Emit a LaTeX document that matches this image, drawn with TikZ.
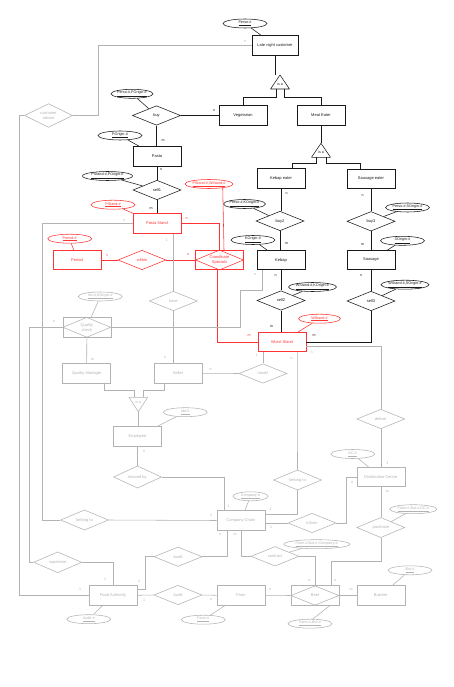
\documentclass[tikz,border=0pt]{standalone}
\usepackage{fontspec}
\setmainfont{Liberation Sans}
\usetikzlibrary{shapes.geometric}
\definecolor{cK}{HTML}{1A1A1A}
\definecolor{cR}{HTML}{FF3333}
\definecolor{cG}{HTML}{B3B3B3}
\begin{document}
\begin{tikzpicture}[x=1pt,y=-1pt,
  base/.style={font=\fontsize{4}{4.6}\selectfont, inner sep=0pt, align=center, line width=0.55pt},
  ent/.style={base, draw, rectangle, minimum width=48pt, minimum height=19.5pt},
  rel/.style={base, draw, diamond, minimum width=48pt, minimum height=19.5pt},
  attr/.style={base, draw, ellipse, minimum width=44pt, minimum height=9pt, font=\fontsize{3.7}{4.2}\selectfont},
  card/.style={font=\fontsize{3.6}{4}\selectfont, inner sep=0pt},
  inkK/.style={draw=cK, text=cK},
  inkR/.style={draw=cR, text=cR},
  inkG/.style={draw=cG, text=cG},
  lK/.style={draw=cK, line width=0.55pt},
  lR/.style={draw=cR, line width=0.55pt},
  lG/.style={draw=cG, line width=0.55pt},
]
\path[use as bounding box, fill=white] (0,0) rectangle (454,687);

% ---------------- black part ----------------
\node[attr,inkK] (perso) at (245,23.5) {\underline{Perso-\#}};
\node[ent,inkK,minimum width=46pt] (late) at (275,45.5) {Late night customer};
\coordinate (t1a) at (280,75);
\coordinate (t1l) at (276.7,89);
\coordinate (t1r) at (284,89);
\draw[lK,line join=round] (270.5,89) -- (t1a) -- (289.5,89) -- cycle;
\node[card,text=cK] (isa1) at (280,84.5) {is a};
\node[ent,inkK] (veg) at (243,115.5) {Vegetarian};
\node[ent,inkK] (meat) at (321,115.5) {Meat Eater};
\node[rel,inkK] (buy) at (156.5,115.5) {buy};
\node[attr,inkK,minimum width=42pt] (a_ppo) at (132,93.8) {\underline{Perso-\#,POrigin-\#}};
\node[ent,inkK] (pasta) at (157,156.3) {Pasta};
\node[attr,inkK] (a_po) at (120,135.5) {\underline{POrigin-\#}};
\node[rel,inkK] (sell1) at (157,190) {sell1};
\node[attr,inkK,minimum width=50pt] (a_pspo) at (107.5,176) {\underline{PStand-\#,POrigin-\#}};
\coordinate (t2a) at (321,143.3);
\coordinate (t2l) at (316,157.3);
\coordinate (t2r) at (326,157.3);
\draw[lK,line join=round] (311.5,157.3) -- (t2a) -- (330.5,157.3) -- cycle;
\node[card,text=cK] (isa2) at (321,152.5) {is a};
\node[ent,inkK] (keater) at (281,178.5) {Kebap eater};
\node[ent,inkK] (seater) at (371,179) {Sausage eater};
\node[rel,inkK] (buy2) at (280,221) {buy2};
\node[attr,inkK,minimum width=42pt] (a_pko) at (244.5,204) {\underline{Perso-\#,KOrigin-\#}};
\node[ent,inkK] (kebap) at (281,260) {Kebap};
\node[attr,inkK] (a_ko) at (253,240) {\underline{KOrigin-\#}};
\node[rel,inkK] (sell2) at (281,300.5) {sell2};
\node[attr,inkK,minimum width=48pt] (a_wko) at (312.5,287) {\underline{WStand-\#,KOrigin-\#}};
\node[rel,inkK] (buy3) at (371,221.3) {buy3};
\node[attr,inkK] (a_pso) at (407.5,207.5) {\underline{Perso-\#,SOrigin-\#}};
\node[ent,inkK] (sausage) at (371,260) {Sausage};
\node[attr,inkK] (a_so) at (402.5,240.8) {\underline{SOrigin-\#}};
\node[rel,inkK] (sell3) at (371,301) {sell3};
\node[attr,inkK,minimum width=48pt] (a_wso) at (405,284.7) {\underline{WStand-\#,SOrigin-\#}};

% ---------------- red part ----------------
\node[ent,inkR] (pstand) at (157,223.5) {Pasta Stand};
\node[attr,inkR] (a_ps) at (113,204.7) {\underline{PStand-\#}};
\node[ent,inkR] (period) at (77,260) {Period};
\node[attr,inkR] (a_per) at (69.7,238.7) {\underline{Period-\#}};
\node[rel,inkR] (within) at (142,260) {within};
\node[ent,inkR] (coord) at (219.5,260) {Coordinate\\Specials};
\node[rel,draw=cR,minimum width=48pt,minimum height=20pt] (coordd) at (219.5,260) {};
\node[attr,inkR,minimum width=48pt] (a_pws) at (209,184) {\underline{PStand-\#,WStand-\#}};
\node[ent,inkR] (wstand) at (282,342) {Wurst Stand};
\node[attr,inkR,minimum width=42pt] (a_ws) at (319.5,318.7) {\underline{WStand-\#}};

% ---------------- gray part ----------------
\node[rel,inkG] (cadv) at (48.5,115.5) {customer\\advice};
\node[rel,inkG] (have) at (173.3,301) {have};
\node[ent,inkG] (seller) at (178,373.3) {Seller};
\node[rel,inkG] (have2) at (263,373.5) {have2};
\node[ent,inkG] (qcheck) at (86.8,327.3) {Quality\\check};
\node[rel,draw=cG,minimum width=48pt,minimum height=20pt] (qcheckd) at (86.8,327.3) {};
\node[attr,inkG] (a_ins) at (100.3,296.5) {\underline{Ins-\#,KOrigin-\#}};
\node[ent,inkG] (qm) at (86.7,373.3) {Quality Manager};
\coordinate (t3a) at (138.3,411.7);
\coordinate (t3l) at (134,397.3);
\coordinate (t3r) at (143.3,397.3);
\draw[lG,line join=round] (129,397.3) -- (t3a) -- (147.7,397.3) -- cycle;
\node[card,text=cG] (isa3) at (138.3,402) {is a};
\node[ent,inkG] (employee) at (137.5,436.3) {Employee};
\node[attr,inkG] (a_ide) at (185.3,412.2) {\underline{Ide-\#}};
\node[rel,inkG] (insured) at (137.5,477) {insured by};
\node[rel,inkG] (belong1) at (84.5,520) {belong to};
\node[rel,inkG] (supervise) at (57.7,562.3) {supervise};
\node[ent,inkG] (fa) at (113,595.3) {Food Authority};
\node[attr,inkG] (a_audit) at (88.7,619.2) {\underline{Audit-\#}};
\node[rel,inkG] (audit1) at (178,556.7) {Audit};
\node[rel,inkG] (audit2) at (178,595) {Audit};
\node[ent,inkG] (farm) at (240.8,595.3) {Farm};
\node[attr,inkG] (a_farm) at (203.3,619.7) {\underline{Farm-\#}};
\node[ent,inkG] (cc) at (240.8,520.5) {Company Chain};
\node[attr,inkG,minimum width=35pt] (a_comp) at (250.5,496.3) {\underline{Company-\#}};
\node[rel,inkG] (belong2) at (297.5,480) {belong to};
\node[rel,inkG] (deliver) at (380.8,419) {deliver};
\node[ent,inkG] (dc) at (380.8,477) {Distribution Centre};
\node[attr,inkG] (a_dc) at (352.7,454) {\underline{DC-\#}};
\node[rel,inkG] (inform) at (312,523) {inform};
\node[rel,inkG] (purchase) at (380.8,527.5) {purchase};
\node[attr,inkG,minimum width=47pt] (a_fbd) at (413.3,509.2) {\underline{Farm-\#,But-\#,DC-\#}};
\node[rel,inkG] (contract) at (275,556.3) {contract};
\node[attr,inkG,minimum width=66pt] (a_fbc) at (316.7,544.2) {\underline{Farm-\#,But-\#,Company-\#}};
\node[ent,inkG] (beef) at (315,595.5) {Beef};
\node[rel,draw=cG,minimum width=48pt,minimum height=19.5pt] (beefd) at (315,595.5) {};
\node[attr,inkG] (a_fb) at (310,623.7) {\underline{Farm-\#,But-\#}};
\node[ent,inkG] (butcher) at (380.8,595.5) {Butcher};
\node[attr,inkG] (a_but) at (410,570.3) {\underline{But-\#}};

% ---------------- black connectors ----------------
\draw[lK] (perso) -- (late);
\draw[lK] (late.south) -- (late.south |- t1a);
\draw[lK] (t1l) -- (276.7,97.7) -| (veg.north);
\draw[lK] (t1r) -- (284,97.7) -| (meat.north);
\draw[lK] (buy.east) -- (veg.west);
\draw[lK] (a_ppo) -- (buy);
\draw[lK] (buy.south) -- (buy.south |- pasta.north);
\draw[lK] (a_po) -- (pasta);
\draw[lK] (pasta.south) -- (pasta.south |- sell1.north);
\draw[lK] (a_pspo) -- (sell1);
\draw[lK] (sell1.south) -- (sell1.south |- pstand.north);
\draw[lK] (meat.south) -- (t2a);
\draw[lK] (t2l) -- (316,163.3) -| ([xshift=11.7pt]keater.north);
\draw[lK] (t2r) -- (326,163.3) -| ([xshift=-11pt]seater.north);
\draw[lK] (keater.south) -- (keater.south |- buy2.north);
\draw[lK] (a_pko) -- (buy2);
\draw[lK] (buy2.south) -- (buy2.south |- kebap.north);
\draw[lK] (a_ko) -- (kebap);
\draw[lK] (kebap.south) -- (sell2.north);
\draw[lK] (a_wko) -- (sell2);
\draw[lK] (sell2.south) -- (sell2.south |- wstand.north);
\draw[lK] (seater.south) -- (buy3.north);
\draw[lK] (a_pso) -- (buy3);
\draw[lK] (buy3.south) -- (sausage.north);
\draw[lK] (a_so) -- (sausage);
\draw[lK] (sausage.south) -- (sell3.north);
\draw[lK] (a_wso) -- (sell3);
\draw[lK] (sell3.south) |- (wstand.east);

% ---------------- red connectors ----------------
\draw[lR] (a_ps) -- (pstand);
\draw[lR] (a_per) -- (period);
\draw[lR] (period.east) -- (within.west);
\draw[lR] (within.east) -- (coord.west);
\draw[lR] (pstand.east) -| (coord.north);
\draw[lR] (a_pws.-16) -- ([xshift=4.5pt]coord.north);
\draw[lR] ([xshift=-2pt]coord.south) |- (wstand.west);
\draw[lR] (a_ws) -- (wstand);

% ---------------- gray connectors ----------------
\draw[lG] (cadv.east) -- (98,115.5) |- (late.west);
\draw[lG] (cadv.west) -| (19,595.3) -- (fa.west);
\draw[lG] (pstand.west) -| (42,520) -- (belong1.west);
\draw[lG] (belong1.east) -- (cc.west);
\draw[lG] (pstand.south -| have.north) -- (have.north);
\draw[lG] (have.south) -- (have.south |- seller.north);
\draw[lG] (seller.east) -- (have2.west);
\draw[lG] (have2.north) -- (have2.north |- wstand.south);
\draw[lG] ([xshift=-14pt]seller.south) |- (143.3,390.7) -- (t3r);
\draw[lG] ([xshift=17.3pt]qm.south) |- (134,390.7) -- (t3l);
\draw[lG] (t3a) -- (t3a |- employee.north);
\draw[lG] (qcheck.south) -- (qm.north);
\draw[lG] (a_ins) -- (qcheck);
\draw[lG] (qcheck.west) -| (29,562.3) -- (supervise.west);
\draw[lG] (supervise.east) -| (fa.north);
\draw[lG] (qcheck.east) -- (240,327.3) |- (262.7,290.7) -- ([xshift=-18.3pt]kebap.south);
\draw[lG] (employee.south) -- (insured.north);
\draw[lG] (a_ide) -- (employee);
\draw[lG] (insured.east) -| ([xshift=-16.8pt]cc.north);
\draw[lG] ([xshift=15.3pt]wstand.south) -- (belong2.north);
\draw[lG] (belong2.south) |- ([yshift=6.5pt]cc.east);
\draw[lG] ([yshift=-4.7pt]wstand.east) -| (deliver.north);
\draw[lG] (deliver.south) -- (dc.north);
\draw[lG] (a_dc) -- (dc);
\draw[lG] (dc.west) -| (346.7,523) -- (inform.east);
\draw[lG] (inform.west) -- ([yshift=-2.5pt]cc.east);
\draw[lG] (dc.south) -- (purchase.north);
\draw[lG] (a_fbd) -- (purchase);
\draw[lG] (purchase.south) |- (331.7,561) -- ([xshift=16.7pt]beef.north);
\draw[lG] (audit1.east) -| ([xshift=-13.1pt]cc.south);
\draw[lG] ([yshift=6pt]fa.east) -| (145.7,556.7) -- (audit1.west);
\draw[lG] (fa.east) -- (audit2.west);
\draw[lG] (audit2.east) -- (farm.west);
\draw[lG] (a_farm) -- (farm);
\draw[lG] (a_audit) -- (fa);
\draw[lG] (farm.east) -- (beef.west);
\draw[lG] (beef.east) -- (butcher.west);
\draw[lG] (a_but) -- (butcher);
\draw[lG] (a_fb.60) -- ([xshift=15pt]beef.south);
\draw[lG] (cc.south) |- (contract.west);
\draw[lG] (contract.east) -| (beef.north);
\draw[lG] (a_fbc) -- (contract);
\draw[lG] (a_comp) -- (cc);

% ---------------- cardinalities ----------------
\node[card,text=cK] (k1) at (214,111) {n};
\node[card,text=cK] (k2) at (163,141) {m};
\node[card,text=cK] (k3) at (161,170) {n};
\node[card,text=cK] (k4) at (151,209) {m};
\node[card,text=cK] (k5) at (286.7,194) {n};
\node[card,text=cK] (k6) at (286.7,244) {m};
\node[card,text=cK] (k7) at (275.7,276) {n};
\node[card,text=cK] (k8) at (271.7,326.7) {m};
\node[card,text=cK] (k9) at (362.7,196) {n};
\node[card,text=cK] (k10) at (362.7,244.3) {m};
\node[card,text=cK] (k11) at (361,276) {n};
\node[card,text=cK] (k12) at (314,336) {m};
\node[card,text=cR] (r1) at (107,255) {1};
\node[card,text=cR] (r2) at (188,255) {n};
\node[card,text=cR] (r3) at (186.7,219) {n};
\node[card,text=cR] (r4) at (249,336) {m};
\node[card,text=cG] (g1) at (245,42) {n};
\node[card,text=cG] (g2) at (80,589) {1};
\node[card,text=cG] (g3) at (124,220.7) {n};
\node[card,text=cG] (g4) at (211,515) {1};
\node[card,text=cG] (g5) at (166.7,240) {1};
\node[card,text=cG] (g6) at (165,358) {n};
\node[card,text=cG] (g7) at (210.7,369.3) {n};
\node[card,text=cG] (g8) at (256.7,355) {1};
\node[card,text=cG] (g9) at (92.3,359.3) {m};
\node[card,text=cG] (g10) at (54,321.7) {n};
\node[card,text=cG] (g11) at (105,579.3) {1};
\node[card,text=cG] (g12) at (255,275) {n};
\node[card,text=cG] (g13) at (144,451.7) {n};
\node[card,text=cG] (g14) at (228.3,506.7) {1};
\node[card,text=cG] (g15) at (291.7,358.3) {n};
\node[card,text=cG] (g16) at (270.7,509.3) {1};
\node[card,text=cG] (g17) at (311.7,352.3) {n};
\node[card,text=cG] (g18) at (387.3,463.3) {1};
\node[card,text=cG] (g19) at (352.3,482.7) {n};
\node[card,text=cG] (g20) at (271,527.7) {1};
\node[card,text=cG] (g21) at (387.3,491.7) {m};
\node[card,text=cG] (g22) at (335,581) {n};
\node[card,text=cG] (g23) at (220,535) {n};
\node[card,text=cG] (g24) at (235,535) {m};
\node[card,text=cG] (g25) at (139,581.7) {1};
\node[card,text=cG] (g26) at (144,600) {1};
\node[card,text=cG] (g27) at (211,600) {n};
\node[card,text=cG] (g28) at (270,590) {n};
\node[card,text=cG] (g29) at (351,590) {m};
\node[card,text=cG] (g30) at (309.3,581) {n};
\end{tikzpicture}
\end{document}
